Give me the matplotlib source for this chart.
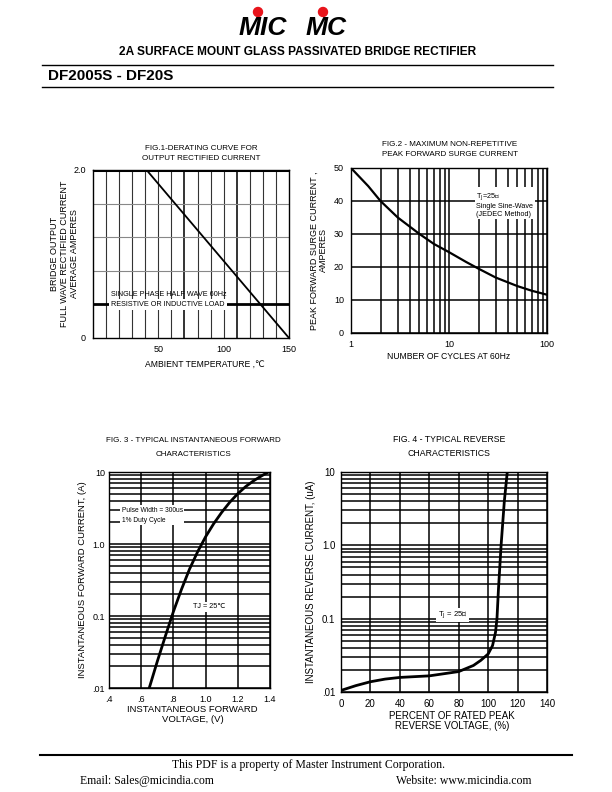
import matplotlib.pyplot as plt
from matplotlib.patches import Ellipse
from matplotlib.ticker import NullFormatter, LogLocator

plt.rcParams['font.family'] = ['Liberation Sans', 'DejaVu Sans']

# ---- data ----
# FIG.1 derating
derate_temp = [0, 41, 150]
derate_amps = [2.0, 2.0, 0.0]

# FIG.2 surge current
surge_cycles = [1, 1.5, 2, 3, 5, 7, 10, 15, 20, 30, 50, 70, 100]
surge_amps = [50, 44.5, 40, 35, 30, 27, 24.5, 21.5, 19.5, 16.8, 14.2, 12.8, 11.6]

# FIG.3 forward characteristics
fwd_volts = [0.65, 0.70, 0.75, 0.80, 0.85, 0.90, 0.95, 1.00, 1.05, 1.10, 1.15, 1.20, 1.25, 1.30, 1.35, 1.39]
fwd_amps = [0.01, 0.0234, 0.0525, 0.115, 0.234, 0.447, 0.776, 1.26, 1.91, 2.75, 3.8, 5.0, 6.3, 7.6, 8.9, 10]

# FIG.4 reverse characteristics
rev_pct = [0, 10, 20, 30, 40, 60, 80, 90, 95, 100, 103, 105, 106, 107, 108.8, 111, 113]
rev_ua = [0.0105, 0.0122, 0.0138, 0.015, 0.0158, 0.0166, 0.019, 0.023, 0.027, 0.033, 0.043, 0.065, 0.1, 0.25, 1.0, 4.0, 10]


def fx(px):
    return px / 612.0


def fy(py):
    return 1 - py / 792.0


def ax_box(left, top, right, bottom):
    return [fx(left), fy(bottom), fx(right) - fx(left), (bottom - top) / 792.0]


fig = plt.figure(figsize=(6.12, 7.92), dpi=100)

# ==========================================
# HEADER
# ==========================================
fig.text(fx(263), fy(28), "MIC", fontsize=19, fontweight='black', style='italic',
         ha='center', va='center')
fig.text(fx(326), fy(28), "MC", fontsize=19, fontweight='black', style='italic',
         ha='center', va='center')
for cx in [258, 323]:
    fig.patches.append(Ellipse((fx(cx), fy(12)), 9 / 612, 9 / 792, color='#e8141b',
                               transform=fig.transFigure, figure=fig))

fig.text(fx(298), fy(52), "2A SURFACE MOUNT GLASS PASSIVATED BRIDGE RECTIFIER",
         fontsize=8.6, fontweight='bold', ha='center', va='center')
fig.add_artist(plt.Line2D([fx(42), fx(553)], [fy(65), fy(65)], color='black', lw=1))
fig.text(fx(48), fy(76), "DF2005S - DF20S", fontsize=11, fontweight='bold', ha='left', va='center')
fig.add_artist(plt.Line2D([fx(42), fx(553)], [fy(87), fy(87)], color='black', lw=1))

# ==========================================
# FIG.1
# ==========================================
ax1 = fig.add_axes(ax_box(93, 170, 289, 338))
ax1.plot(derate_temp, derate_amps, color='black', lw=1.3, zorder=5)
ax1.axhline(2.0, color='black', lw=2.2, zorder=5)
ax1.set_xlim(0, 150)
ax1.set_ylim(0, 2.0)
for xv in range(10, 150, 10):
    ax1.axvline(xv, color='#333333', lw=1.4 if xv in (70, 110) else 0.8, zorder=1)
for yv in [0.8, 1.2, 1.6]:
    ax1.axhline(yv, color='#888888', lw=0.8, zorder=1)
ax1.axhline(0.4, color='black', lw=2.0, zorder=2)
ax1.text(14, 0.52, "SINGLE PHASE HALF WAVE 60Hz", fontsize=5.2, va='center', ha='left', zorder=6)
ax1.text(14, 0.4, "RESISTIVE OR INDUCTIVE LOAD", fontsize=5.2, va='center', ha='left', zorder=6,
         bbox=dict(facecolor='white', edgecolor='none', pad=1.5))
ax1.set_xticks([50, 100, 150])
ax1.set_yticks([0, 2.0], ['0', '2.0'])
ax1.tick_params(length=0, labelsize=6.5, pad=5)
ax1.set_ylabel("BRIDGE OUTPUT\nFULL WAVE RECTIFIED CURRENT\nAVERAGE AMPERES", fontsize=6.5,
               linespacing=1.15)
ax1.yaxis.set_label_coords(-0.07, 0.5)
ax1.set_xlabel("AMBIENT TEMPERATURE ,\u2103", fontsize=6.2)
ax1.xaxis.set_label_coords(0.57, -0.13)
fig.text(fx(201), fy(148), "FIG.1-DERATING CURVE FOR", fontsize=5.8, ha='center', va='center')
fig.text(fx(201), fy(158), "OUTPUT RECTIFIED CURRENT", fontsize=5.8, ha='center', va='center')

# ==========================================
# FIG.2
# ==========================================
ax2 = fig.add_axes(ax_box(351, 168, 547, 333))
ax2.plot(surge_cycles, surge_amps, color='black', lw=1.6, zorder=5)
ax2.set_xscale('log')
ax2.set_xlim(1, 100)
ax2.set_ylim(0, 50)
ax2.xaxis.set_minor_locator(LogLocator(base=10, subs=range(2, 10)))
ax2.xaxis.set_minor_formatter(NullFormatter())
ax2.set_xticks([1, 10, 100], ['1', '10', '100'])
ax2.set_yticks(range(0, 51, 10))
ax2.grid(which='both', axis='x', color='black', lw=1.1)
ax2.grid(which='major', axis='y', color='black', lw=1.1)
ax2.tick_params(which='both', length=0, labelsize=6.5, pad=5)
ax2.text(0.64, 0.86, "T$_\\mathrm{J}$=25\u2103\nSingle Sine-Wave\n(JEDEC Method)", transform=ax2.transAxes,
         fontsize=5.2, va='top', ha='left', linespacing=1.1, zorder=6,
         bbox=dict(facecolor='white', edgecolor='none', pad=1.2))
ax2.set_ylabel("PEAK FORWARD SURGE CURRENT ,\nAMPERES", fontsize=6.5, linespacing=1.15)
ax2.yaxis.set_label_coords(-0.115, 0.5)
ax2.set_xlabel("NUMBER OF CYCLES AT 60Hz", fontsize=6.2)
ax2.xaxis.set_label_coords(0.5, -0.115)
fig.text(fx(450), fy(144), "FIG.2 - MAXIMUM NON-REPETITIVE", fontsize=5.8, ha='center', va='center')
fig.text(fx(450), fy(155), "PEAK FORWARD SURGE CURRENT", fontsize=5.8, ha='center', va='center')

# ==========================================
# FIG.3
# ==========================================
ax3 = fig.add_axes(ax_box(109, 472, 270, 688))
ax3.plot(fwd_volts, fwd_amps, color='black', lw=2.0, zorder=5)
ax3.set_yscale('log')
ax3.set_xlim(0.4, 1.4)
ax3.set_ylim(0.01, 10)
ax3.yaxis.set_minor_locator(LogLocator(base=10, subs=range(2, 10)))
ax3.yaxis.set_minor_formatter(NullFormatter())
ax3.set_yticks([0.01, 0.1, 1, 10], ['.01', '0.1', '1.0', '10'])
ax3.set_xticks([0.4, 0.6, 0.8, 1.0, 1.2, 1.4], ['.4', '.6', '.8', '1.0', '1.2', '1.4'])
ax3.grid(which='both', axis='y', color='black', lw=1.1)
ax3.grid(which='major', axis='x', color='black', lw=1.1)
ax3.tick_params(which='both', length=0, labelsize=6.5, pad=5)
ax3.tick_params(axis='y', which='both', pad=3)
ax3.text(0.08, 0.80, "Pulse Width = 300us\n1% Duty Cycle", transform=ax3.transAxes,
         fontsize=4.8, va='center', ha='left', linespacing=1.6, zorder=6,
         bbox=dict(facecolor='white', edgecolor='none', pad=1.0))
ax3.text(0.52, 0.375, "TJ = 25\u2103", transform=ax3.transAxes, fontsize=5.2, va='center',
         ha='left', zorder=6, bbox=dict(facecolor='white', edgecolor='none', pad=1.0))
ax3.set_ylabel("INSTANTANEOUS FORWARD CURRENT, (A)", fontsize=6.8)
ax3.yaxis.set_label_coords(-0.135, 0.5)
ax3.set_xlabel("INSTANTANEOUS FORWARD\nVOLTAGE, (V)", fontsize=6.8, linespacing=1.05)
ax3.xaxis.set_label_coords(0.52, -0.08)
fig.text(fx(193), fy(441), "FIG. 3 - TYPICAL INSTANTANEOUS FORWARD", fontsize=5.8, ha='center', va='center')
fig.text(fx(193), fy(454), "CHARACTERISTICS", fontsize=5.8, ha='center', va='center')

# ==========================================
# FIG.4
# ==========================================
ax4 = fig.add_axes(ax_box(341, 472, 547, 692))
ax4.plot(rev_pct, rev_ua, color='black', lw=2.0, zorder=5)
ax4.set_yscale('log')
ax4.set_xlim(0, 140)
ax4.set_ylim(0.01, 10)
ax4.yaxis.set_minor_locator(LogLocator(base=10, subs=range(2, 10)))
ax4.yaxis.set_minor_formatter(NullFormatter())
ax4.set_yticks([0.01, 0.1, 1, 10], ['.01', '0.1', '1.0', '10'])
ax4.set_xticks(range(0, 141, 20))
ax4.grid(which='both', axis='y', color='black', lw=1.1)
ax4.grid(which='major', axis='x', color='black', lw=1.1)
ax4.tick_params(which='both', length=0, labelsize=7, pad=5)
ax4.tick_params(axis='y', which='both', pad=4)
ax4.text(0.47, 0.35, "T$_\\mathrm{J}$ = 25\u2103", transform=ax4.transAxes, fontsize=5.5,
         va='center', ha='left', zorder=6, bbox=dict(facecolor='white', edgecolor='none', pad=1.0))
ax4.set_ylabel("INSTANTANEOUS REVERSE CURRENT, (uA)", fontsize=7)
ax4.yaxis.set_label_coords(-0.12, 0.5)
ax4.set_xlabel("PERCENT OF RATED PEAK\nREVERSE VOLTAGE, (%)", fontsize=7, linespacing=1.0)
ax4.xaxis.set_label_coords(0.54, -0.085)
fig.text(fx(449), fy(440), "FIG. 4 - TYPICAL REVERSE", fontsize=6.3, ha='center', va='center')
fig.text(fx(449), fy(453), "CHARACTERISTICS", fontsize=6.3, ha='center', va='center')

for ax in (ax1, ax2, ax3, ax4):
    for sp in ax.spines.values():
        sp.set_linewidth(1.0)
        sp.set_zorder(6)

# ==========================================
# FOOTER
# ==========================================
fig.add_artist(plt.Line2D([fx(40), fx(572)], [fy(755), fy(755)], color='black', lw=1.5))
fig.text(fx(308), fy(765), "This PDF is a property of Master Instrument Corporation.",
         family='Liberation Serif', fontsize=8.5, ha='center', va='center')
fig.text(fx(80), fy(781), "Email: Sales@micindia.com", family='Liberation Serif', fontsize=8.5,
         ha='left', va='center')
fig.text(fx(532), fy(781), "Website: www.micindia.com", family='Liberation Serif', fontsize=8.5,
         ha='right', va='center')

fig.savefig("out.png", dpi=100)
